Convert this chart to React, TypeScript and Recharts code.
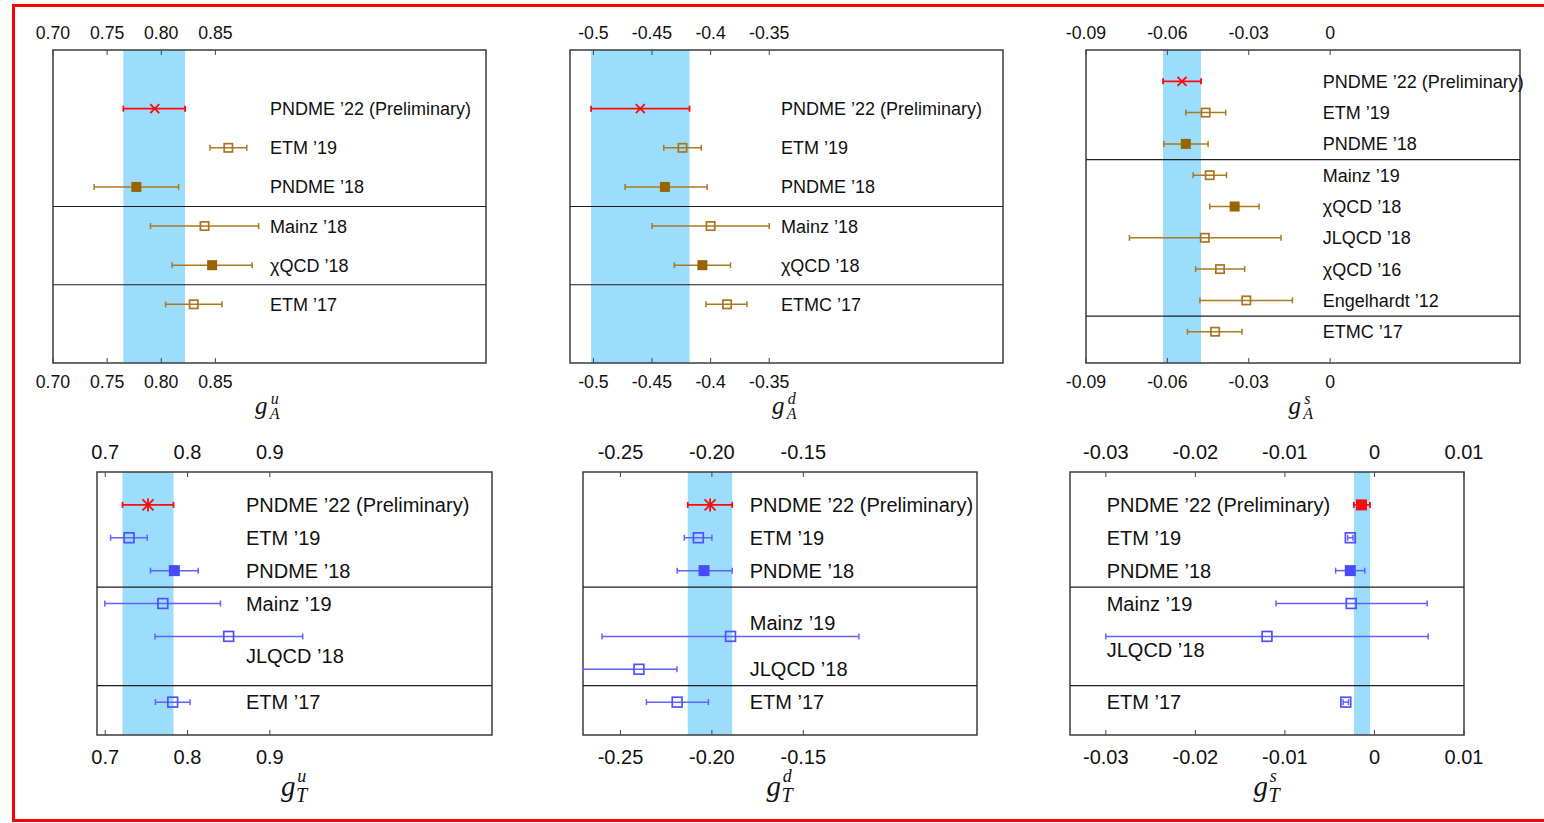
import React from "react";
import {
  ScatterChart,
  Scatter,
  XAxis,
  YAxis,
  ErrorBar,
  ReferenceArea,
  ReferenceLine,
  Label,
} from "recharts";

// ---- g_A^u ----
const gAuNames = ["PNDME ’22 (Preliminary)", "ETM ’19", "PNDME ’18", "Mainz ’18", "χQCD ’18", "ETM ’17"];
const gAuValue = [0.794, 0.862, 0.777, 0.84, 0.847, 0.83];
const gAuLow = [0.765, 0.845, 0.738, 0.79, 0.81, 0.804];
const gAuHigh = [0.822, 0.879, 0.816, 0.89, 0.884, 0.856];
const gAuRows = [0, 1, 2, 3, 4, 5];
const gAuTicks = ["0.70", "0.75", "0.80", "0.85"];

// ---- g_A^d ----
const gAdNames = ["PNDME ’22 (Preliminary)", "ETM ’19", "PNDME ’18", "Mainz ’18", "χQCD ’18", "ETMC ’17"];
const gAdValue = [-0.46, -0.424, -0.439, -0.4, -0.407, -0.386];
const gAdLow = [-0.502, -0.44, -0.473, -0.45, -0.431, -0.404];
const gAdHigh = [-0.418, -0.408, -0.403, -0.35, -0.383, -0.369];
const gAdRows = [0, 1, 2, 3, 4, 5];
const gAdTicks = ["-0.5", "-0.45", "-0.4", "-0.35"];

// ---- g_A^s ----
const gAsNames = [
  "PNDME ’22 (Preliminary)", "ETM ’19", "PNDME ’18", "Mainz ’19", "χQCD ’18",
  "JLQCD ’18", "χQCD ’16", "Engelhardt ’12", "ETMC ’17",
];
const gAsValue = [-0.0546, -0.0459, -0.0532, -0.0444, -0.0352, -0.0462, -0.0406, -0.0309, -0.0424];
const gAsLow = [-0.0616, -0.0532, -0.0613, -0.0505, -0.0444, -0.074, -0.0496, -0.048, -0.0526];
const gAsHigh = [-0.0476, -0.0385, -0.045, -0.0382, -0.0262, -0.0181, -0.0315, -0.0139, -0.0325];
const gAsRows = [0, 1, 2, 3, 4, 5, 6, 7, 8];
const gAsTicks = ["-0.09", "-0.06", "-0.03", "0"];

// ---- g_T^u ----
const gTuNames = ["PNDME ’22 (Preliminary)", "ETM ’19", "PNDME ’18", "Mainz ’19", "JLQCD ’18", "ETM ’17"];
const gTuValue = [0.752, 0.729, 0.784, 0.77, 0.85, 0.782];
const gTuLow = [0.721, 0.7065, 0.755, 0.6995, 0.7605, 0.761];
const gTuHigh = [0.783, 0.751, 0.813, 0.84, 0.94, 0.803];
const gTuRows = [0, 1, 2, 3, 4, 6];
const gTuLabelRows = [0, 1, 2, 3, 4.6, 6];
const gTuTicks = ["0.7", "0.8", "0.9"];

// ---- g_T^d ----
const gTdNames = ["PNDME ’22 (Preliminary)", "ETM ’19", "PNDME ’18", "Mainz ’19", "JLQCD ’18", "ETM ’17"];
const gTdValue = [-0.201, -0.2074, -0.2043, -0.1898, -0.2399, -0.219];
const gTdLow = [-0.2132, -0.2151, -0.219, -0.2601, -0.2705, -0.2358];
const gTdHigh = [-0.1889, -0.2, -0.1889, -0.1196, -0.2191, -0.2019];
const gTdRows = [0, 1, 2, 4, 5, 6];
const gTdLabelRows = [0, 1, 2, 3.6, 5, 6];
const gTdTicks = ["-0.25", "-0.20", "-0.15"];

// ---- g_T^s ----
const gTsNames = ["PNDME ’22 (Preliminary)", "ETM ’19", "PNDME ’18", "Mainz ’19", "JLQCD ’18", "ETM ’17"];
const gTsValue = [-0.00145, -0.0027, -0.0027, -0.0026, -0.012, -0.0032];
const gTsLow = [-0.0023, -0.003, -0.00434, -0.011, -0.03, -0.0035];
const gTsHigh = [-0.0005, -0.0024, -0.00108, 0.00589, 0.006, -0.0029];
const gTsRows = [0, 1, 2, 3, 4, 6];
const gTsLabelRows = [0, 1, 2, 3, 4.4, 6];
const gTsTicks = ["-0.03", "-0.02", "-0.01", "0", "0.01"];

const FILLED = ["PNDME ’18", "χQCD ’18"];

const BAND = "#9cdcfd";
const RED = "#ff0a0a";
const BROWN = { line: "#a87a22", open: "#a87420", fill: "#9a6300" };
const BLUE = { line: "#6262ff", open: "#5050ff", fill: "#4a4aff" };
const SANS = "'Liberation Sans', Arial, Helvetica, sans-serif";
const SERIF = "'Liberation Serif', 'Times New Roman', serif";

type Panel = {
  frame: { x: number; y: number; w: number; h: number };
  domain: [number, number];
  rows: [number, number];
  separators: number[];
  tickLabels: string[];
  names: string[];
  value: number[];
  low: number[];
  high: number[];
  pointRows: number[];
  labelRows: number[];
  labelX: number;
  big: boolean;
  palette: typeof BROWN;
  mark: "cross" | "star" | "square";
  sup: string;
  sub: string;
};

const panels: Panel[] = [
  {
    frame: { x: 53, y: 50, w: 433, h: 313 }, domain: [0.7, 1.1], rows: [-1.5, 6.5], separators: [2.5, 4.5],
    tickLabels: gAuTicks, names: gAuNames, value: gAuValue, low: gAuLow, high: gAuHigh,
    pointRows: gAuRows, labelRows: gAuRows, labelX: 0.9005, big: false, palette: BROWN, mark: "cross", sup: "u", sub: "A",
  },
  {
    frame: { x: 570, y: 50, w: 433, h: 313 }, domain: [-0.52, -0.1505], rows: [-1.5, 6.5], separators: [2.5, 4.5],
    tickLabels: gAdTicks, names: gAdNames, value: gAdValue, low: gAdLow, high: gAdHigh,
    pointRows: gAdRows, labelRows: gAdRows, labelX: -0.34, big: false, palette: BROWN, mark: "cross", sup: "d", sub: "A",
  },
  {
    frame: { x: 1086, y: 50, w: 434, h: 313 }, domain: [-0.09, 0.07], rows: [-1, 9], separators: [2.5, 7.5],
    tickLabels: gAsTicks, names: gAsNames, value: gAsValue, low: gAsLow, high: gAsHigh,
    pointRows: gAsRows, labelRows: gAsRows, labelX: -0.0027, big: false, palette: BROWN, mark: "cross", sup: "s", sub: "A",
  },
  {
    frame: { x: 97, y: 472, w: 395, h: 263 }, domain: [0.69, 1.17], rows: [-1, 7], separators: [2.5, 5.5],
    tickLabels: gTuTicks, names: gTuNames, value: gTuValue, low: gTuLow, high: gTuHigh,
    pointRows: gTuRows, labelRows: gTuLabelRows, labelX: 0.871, big: true, palette: BLUE, mark: "star", sup: "u", sub: "T",
  },
  {
    frame: { x: 583, y: 472, w: 394, h: 263 }, domain: [-0.2705, -0.055], rows: [-1, 7], separators: [2.5, 5.5],
    tickLabels: gTdTicks, names: gTdNames, value: gTdValue, low: gTdLow, high: gTdHigh,
    pointRows: gTdRows, labelRows: gTdLabelRows, labelX: -0.1793, big: true, palette: BLUE, mark: "star", sup: "d", sub: "T",
  },
  {
    frame: { x: 1070, y: 472, w: 394, h: 263 }, domain: [-0.034, 0.01], rows: [-1, 7], separators: [2.5, 5.5],
    tickLabels: gTsTicks, names: gTsNames, value: gTsValue, low: gTsLow, high: gTsHigh,
    pointRows: gTsRows, labelRows: gTsLabelRows, labelX: -0.0299, big: true, palette: BLUE, mark: "square", sup: "s", sub: "T",
  },
];

function makeTick(pos: "top" | "bottom", labels: string[], fs: number, gap: number) {
  return (props: any) => {
    const { x, y, index } = props;
    const dir = pos === "top" ? 1 : -1;
    return (
      <g>
        <line x1={x} x2={x} y1={y} y2={y + dir * 5} stroke="#444" strokeWidth={1} />
        <text
          x={x}
          y={pos === "top" ? y - gap : y + gap}
          dy="0.36em"
          textAnchor="middle"
          fontSize={fs}
          fontFamily={SANS}
          fill="#111"
        >
          {labels[index]}
        </text>
      </g>
    );
  };
}

function makeTitle(sup: string, sub: string, big: boolean) {
  return (props: any) => {
    const vb = props.viewBox || { x: 0, y: 0, width: 0 };
    const cx = vb.x + vb.width / 2;
    const fb = vb.y;
    const s = big
      ? { g: 29, gx: -13.5, gy: 61, sp: 18, ss: 20, ux: 2.8, uy: 46.5, bx: 1.5, by: 66.7 }
      : { g: 25, gx: -14.5, gy: 50.5, sp: 16, ss: 16, ux: 1.3, uy: 41, bx: 0.3, by: 55.5 };
    return (
      <g fontFamily={SERIF} fontStyle="italic" fill="#111">
        <text x={cx + s.gx} y={fb + s.gy} fontSize={s.g}>g</text>
        <text x={cx + s.ux} y={fb + s.uy} fontSize={s.sp}>{sup}</text>
        <text x={cx + s.bx} y={fb + s.by} fontSize={s.ss}>{sub}</text>
      </g>
    );
  };
}

function ForestPanel({ p }: { p: Panel }) {
  const tickFs = p.big ? 20 : 17.7;
  const labelFs = p.big ? 20 : 18;
  const openSq = p.big ? 11.5 : 10;
  const fillSq = p.big ? 11 : 10;
  const col = p.palette;
  const points = p.names.map((name, i) => ({
    x: p.value[i],
    y: p.pointRows[i],
    err: [p.value[i] - p.low[i], p.high[i] - p.value[i]],
    name,
  }));
  const highlight = points.slice(0, 1);
  const others = points.slice(1);
  const labels = p.names.map((name, i) => ({ x: p.labelX, y: p.labelRows[i], name }));
  const ticks = p.tickLabels.map(Number);

  const markShape = (props: any) => {
    const { cx, cy, payload } = props;
    if (FILLED.includes(payload.name)) {
      const h = fillSq / 2;
      return <rect x={cx - h} y={cy - h} width={fillSq} height={fillSq} fill={col.fill} />;
    }
    const sw = 1.7;
    const h = openSq / 2;
    return (
      <rect x={cx - h + sw / 2} y={cy - h + sw / 2} width={openSq - sw} height={openSq - sw}
        fill="none" stroke={col.open} strokeWidth={sw} />
    );
  };

  const redShape = (props: any) => {
    const { cx, cy } = props;
    if (p.mark === "square") {
      return <rect x={cx - 5.5} y={cy - 5.5} width={11} height={11} fill={RED} />;
    }
    const r = p.mark === "star" ? 5.5 : 4.5;
    return (
      <g stroke={RED} strokeWidth={1.8}>
        <line x1={cx - r} y1={cy - r} x2={cx + r} y2={cy + r} />
        <line x1={cx - r} y1={cy + r} x2={cx + r} y2={cy - r} />
        {p.mark === "star" && <line x1={cx} y1={cy - r - 1} x2={cx} y2={cy + r + 1} />}
      </g>
    );
  };

  const labelShape = (props: any) => {
    const { cx, cy, payload } = props;
    return (
      <text x={cx} y={cy} dy="0.36em" fontSize={labelFs} fontFamily={SANS} fill="#111">
        {payload.name}
      </text>
    );
  };

  return (
    <div style={{ position: "absolute", left: p.frame.x - 40, top: p.frame.y - 45 }}>
      <ScatterChart
        width={p.frame.w + 80}
        height={p.frame.h + 120}
        margin={{ top: 0, right: 40, bottom: 0, left: 40 }}
      >
        <XAxis
          xAxisId="t"
          orientation="top"
          type="number"
          dataKey="x"
          domain={p.domain}
          height={45}
          ticks={ticks}
          interval={0}
          tickSize={0}
          tickMargin={0}
          axisLine={false}
          tickLine={false}
          tick={makeTick("top", p.tickLabels, tickFs, p.big ? 20 : 17.7)}
        />
        <XAxis
          xAxisId="b"
          orientation="bottom"
          type="number"
          dataKey="x"
          domain={p.domain}
          allowDataOverflow
          height={75}
          ticks={ticks}
          interval={0}
          tickSize={0}
          tickMargin={0}
          axisLine={false}
          tickLine={false}
          tick={makeTick("bottom", p.tickLabels, tickFs, p.big ? 21.7 : 18.7)}
        >
          <Label content={makeTitle(p.sup, p.sub, p.big)} />
        </XAxis>
        <YAxis yAxisId="r" type="number" dataKey="y" domain={p.rows} reversed hide allowDataOverflow />
        <YAxis yAxisId="l" type="number" dataKey="y" domain={p.rows} reversed hide />
        <ReferenceArea
          xAxisId="b"
          yAxisId="r"
          x1={p.low[0]}
          x2={p.high[0]}
          y1={p.rows[0]}
          y2={p.rows[1]}
          fill={BAND}
          fillOpacity={1}
          stroke="none"
        />
        {p.separators.map((s) => (
          <ReferenceLine key={s} xAxisId="b" yAxisId="r" y={s} stroke="#1e1e1e" strokeWidth={1.2} />
        ))}
        <Scatter xAxisId="b" yAxisId="r" data={others} shape={markShape} isAnimationActive={false}>
          <ErrorBar dataKey="err" direction="x" width={3} stroke={col.line} strokeWidth={1.5} isAnimationActive={false} />
        </Scatter>
        <Scatter xAxisId="b" yAxisId="r" data={highlight} shape={redShape} isAnimationActive={false}>
          <ErrorBar dataKey="err" direction="x" width={3} stroke={RED} strokeWidth={1.8} isAnimationActive={false} />
        </Scatter>
        <Scatter xAxisId="t" yAxisId="l" data={labels} shape={labelShape} isAnimationActive={false} />
        <ReferenceArea
          xAxisId="b"
          yAxisId="r"
          x1={p.domain[0]}
          x2={p.domain[1]}
          y1={p.rows[0]}
          y2={p.rows[1]}
          fill="none"
          stroke="#3c3c3c"
          strokeWidth={1.5}
        />
      </ScatterChart>
    </div>
  );
}

export default function App() {
  return (
    <div
      style={{
        position: "absolute",
        left: 0,
        top: 0,
        width: 1544,
        height: 823,
        overflow: "hidden",
        background: "#fff",
      }}
    >
      <div
        style={{
          position: "absolute",
          left: 12,
          top: 4,
          width: 1532,
          height: 818,
          boxSizing: "border-box",
          borderLeft: "3px solid #ff0000",
          borderTop: "3px solid #ff0000",
          borderBottom: "3px solid #ff0000",
        }}
      />
      {panels.map((p, i) => (
        <ForestPanel key={i} p={p} />
      ))}
    </div>
  );
}
